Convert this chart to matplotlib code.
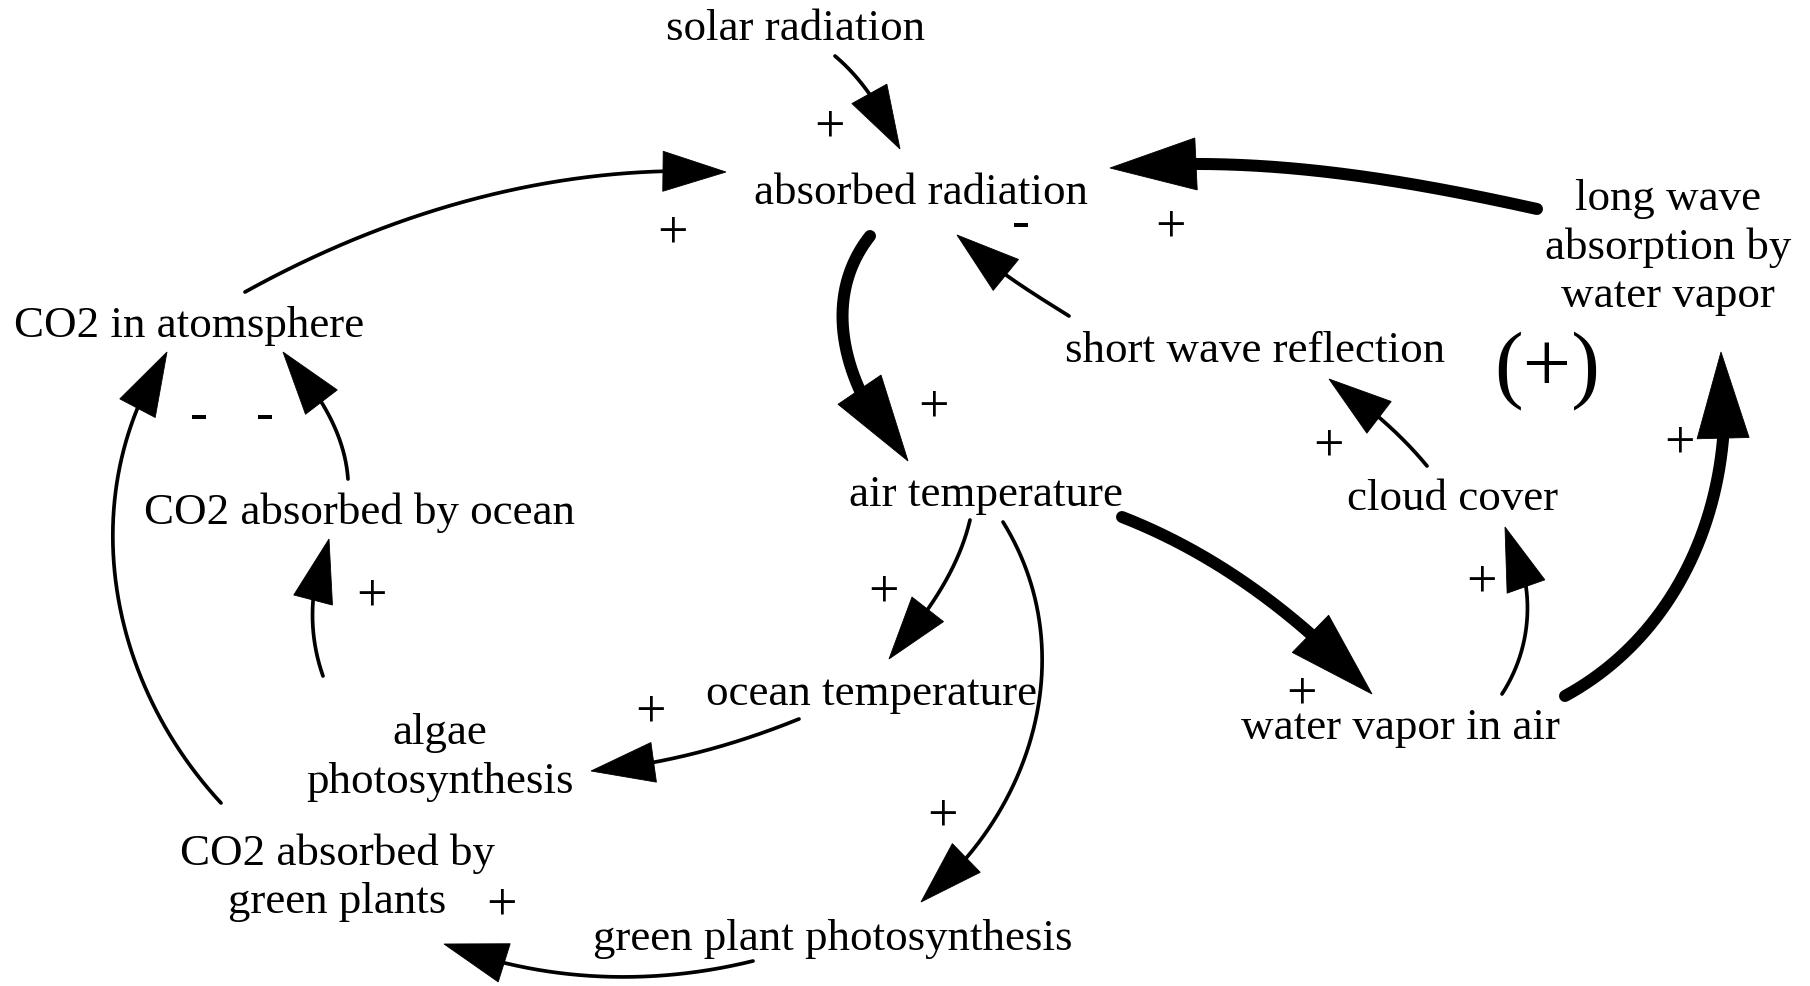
import numpy as np
import matplotlib
matplotlib.use("Agg")
import matplotlib.pyplot as plt
from matplotlib.patches import Polygon

# ---------------- data ----------------
node_labels = [
    "solar radiation",
    "absorbed radiation",
    "CO2 in atomsphere",
    "short wave reflection",
    "long wave\nabsorption by\nwater vapor",
    "air temperature",
    "cloud cover",
    "CO2 absorbed by ocean",
    "ocean temperature",
    "water vapor in air",
    "algae\nphotosynthesis",
    "CO2 absorbed by\ngreen plants",
    "green plant photosynthesis",
]

edge_source = [
    "solar radiation",
    "CO2 in atomsphere",
    "absorbed radiation",
    "long wave\nabsorption by\nwater vapor",
    "short wave reflection",
    "cloud cover",
    "air temperature",
    "water vapor in air",
    "water vapor in air",
    "air temperature",
    "air temperature",
    "ocean temperature",
    "algae\nphotosynthesis",
    "CO2 absorbed by ocean",
    "CO2 absorbed by\ngreen plants",
    "green plant photosynthesis",
]
edge_target = [
    "absorbed radiation",
    "absorbed radiation",
    "air temperature",
    "absorbed radiation",
    "absorbed radiation",
    "short wave reflection",
    "water vapor in air",
    "long wave\nabsorption by\nwater vapor",
    "cloud cover",
    "ocean temperature",
    "green plant photosynthesis",
    "algae\nphotosynthesis",
    "CO2 absorbed by ocean",
    "CO2 in atomsphere",
    "CO2 in atomsphere",
    "CO2 absorbed by\ngreen plants",
]
edge_polarity = ["+", "+", "+", "+", "-", "+", "+", "+",
                 "+", "+", "+", "+", "+", "-", "-", "+"]
loop_polarity = "(+)"

# ---------------- layout (canvas pixels, y downward) ----------------
# node: (centre x, baseline of first line)
node_pos = {
    "solar radiation": (795, 40),
    "absorbed radiation": (921, 204),
    "CO2 in atomsphere": (189, 337),
    "short wave reflection": (1255, 362),
    "long wave\nabsorption by\nwater vapor": (1668, 210),
    "air temperature": (986, 506),
    "cloud cover": (1453, 510),
    "CO2 absorbed by ocean": (359, 524),
    "ocean temperature": (871, 705),
    "water vapor in air": (1400, 739),
    "algae\nphotosynthesis": (440, 744),
    "CO2 absorbed by\ngreen plants": (337, 865),
    "green plant photosynthesis": (833, 950),
}
line_step = 48.5

# edge geometry: start, tip, start-angle, end-angle (deg), heavy?
edge_geom = [
    ((835, 57), (900, 150), 15, 11, False),
    ((245, 293), (726, 173), 15, 17, False),
    ((870, 237), (908, 462), -48, -34, True),
    ((1537, 210), (1110, 169), -7, -11, True),
    ((1069, 317), (957, 236), 4, 8, False),
    ((1427, 467), (1329, 380), -9, -7, False),
    ((1122, 518), (1372, 695), 14, 12, True),
    ((1565, 697), (1721, 353), -37, -32, True),
    ((1502, 695), (1505, 528), -32, -32, False),
    ((970, 521), (889, 660), 17, 10, False),
    ((1003, 523), (921, 903), 44, 39, False),
    ((799, 720), (591, 772), 8, 9, False),
    ((323, 677), (329, 540), 22, 22, False),
    ((348, 480), (283, 353), -23, -15, False),
    ((221, 804), (167, 353), 36, 40, False),
    ((753, 962), (444, 945), 17, 18, False),
]
sign_pos = [
    (829, 128), (672, 234), (933, 408), (1170, 228), (1021, 225),
    (1328, 447), (1301, 695), (1679, 444), (1481, 583), (883, 593),
    (942, 817), (650, 713), (371, 597), (265, 417), (199, 417), (501, 906),
]
loop_pos = (1547, 371)

FONT = "Liberation Serif"
PX = 0.72  # points per pixel at dpi 100


def bezier(p0, p1, a0, a1, n=800):
    p0 = np.asarray(p0, float)
    p1 = np.asarray(p1, float)
    d = p1 - p0
    L = np.hypot(*d)
    u = d / L
    nrm = np.array([u[1], -u[0]])
    r0, r1 = np.radians(a0), np.radians(a1)
    dir0 = np.cos(r0) * u + np.sin(r0) * nrm
    dir1 = np.cos(r1) * u - np.sin(r1) * nrm
    alpha = abs(r0 + r1) / 2
    h = L / 3 if alpha < 1e-3 else (2 / 3) * L * np.tan(alpha / 2) / np.sin(alpha)
    c1 = p0 + h * dir0
    c2 = p1 - h * dir1
    t = np.linspace(0, 1, n)[:, None]
    return (1 - t) ** 3 * p0 + 3 * (1 - t) ** 2 * t * c1 + 3 * (1 - t) * t ** 2 * c2 + t ** 3 * p1


def draw_arrow(ax, p0, p1, a0, a1, heavy):
    lw_px, hl, hw = (12.0, 86, 52) if heavy else (3.7, 63, 40)
    pts = bezier(p0, p1, a0, a1)
    tip = np.asarray(p1, float)
    dist = np.hypot(pts[:, 0] - tip[0], pts[:, 1] - tip[1])
    ib = np.where(dist >= hl)[0][-1]
    base = pts[ib]
    u = (tip - base) / np.hypot(*(tip - base))
    perp = np.array([-u[1], u[0]])
    head = Polygon([tip, base + perp * hw / 2, base - perp * hw / 2],
                   closed=True, facecolor="black", edgecolor="black",
                   linewidth=0.6, joinstyle="miter", zorder=3)
    ie = np.where(dist >= hl * 0.55)[0][-1]
    ax.plot(pts[:ie + 1, 0], pts[:ie + 1, 1], color="black",
            lw=lw_px * PX, solid_capstyle="round", zorder=2)
    ax.add_patch(head)


fig = plt.figure(figsize=(18.10, 9.87), dpi=100)
ax = fig.add_axes([0, 0, 1, 1])
ax.set_xlim(0, 1810)
ax.set_ylim(987, 0)
ax.axis("off")

for label in node_labels:
    x, y = node_pos[label]
    for i, line in enumerate(label.split("\n")):
        ax.text(x, y + i * line_step, line, ha="center", va="baseline",
                fontsize=32.4, family=FONT, color="black")

for (p0, p1, a0, a1, heavy) in edge_geom:
    draw_arrow(ax, p0, p1, a0, a1, heavy)

for sign, (x, y) in zip(edge_polarity, sign_pos):
    ax.text(x, y, sign, ha="center", va="center", fontsize=39,
            family=FONT, color="black")

ax.text(loop_pos[0], loop_pos[1], loop_polarity, ha="center", va="center",
        fontsize=62, family=FONT, color="black")

fig.savefig("out.png", dpi=100, facecolor="white")
